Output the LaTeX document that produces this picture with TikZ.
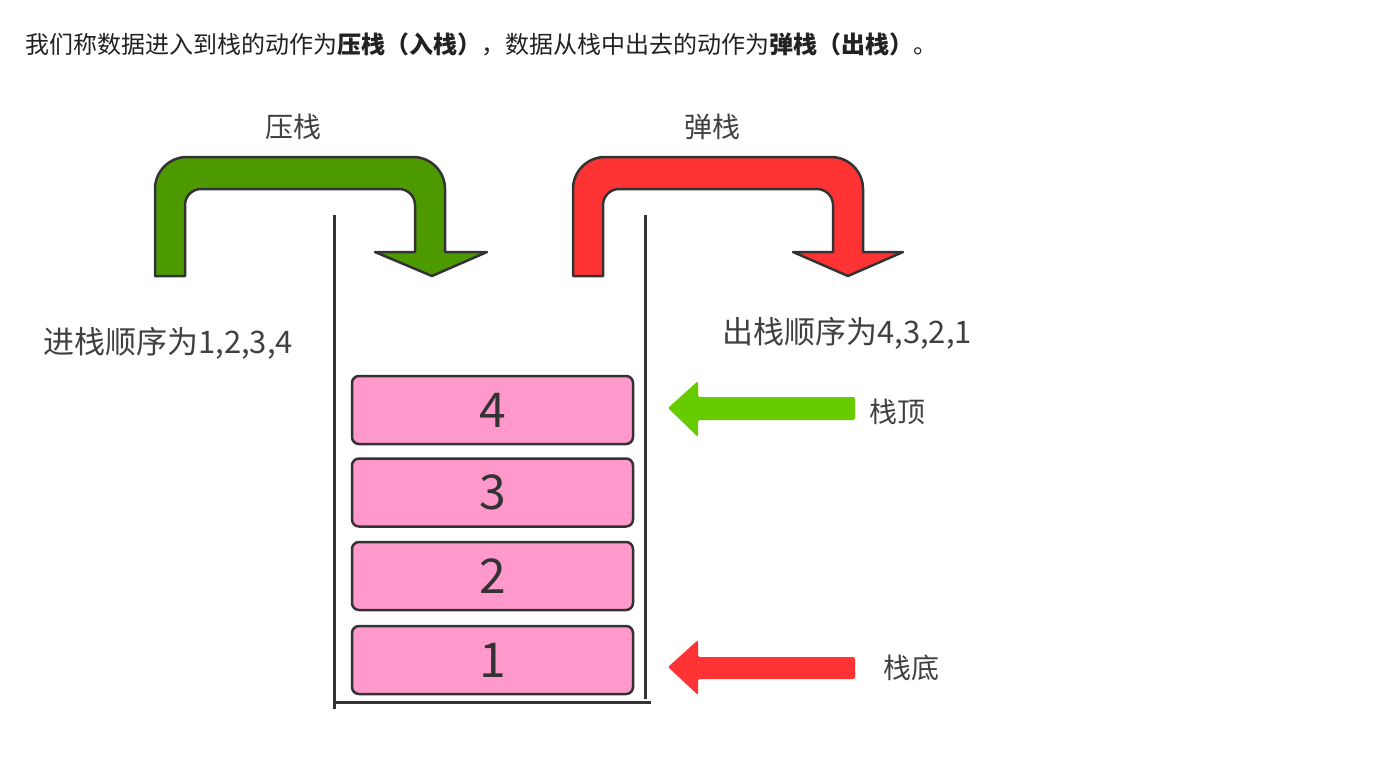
\documentclass[tikz,border=0pt]{standalone}
\usepackage{fontspec}
\setmainfont{Noto Sans CJK SC}
\definecolor{textgray}{HTML}{404040}
\definecolor{introcol}{HTML}{222222}
\definecolor{outline}{HTML}{333333}
\definecolor{pushgreen}{HTML}{4C9A00}
\definecolor{popred}{HTML}{FF3333}
\definecolor{topgreen}{HTML}{66CC00}
\definecolor{boxpink}{HTML}{FF99CC}
\tikzset{
  lbl/.style={text=textgray, inner sep=0pt, font=\fontsize{28pt}{32pt}\selectfont},
  seqlbl/.style={text=textgray, inner sep=0pt, font=\fontsize{31pt}{35pt}\selectfont},
  block/.style={draw=outline, line width=2.5pt, fill=boxpink, rounded corners=7pt,
    minimum width=281pt, minimum height=68pt, inner sep=0pt, text=outline,
    font=\fontsize{48pt}{52pt}\selectfont},
  wall/.style={draw=outline, line width=3pt},
  bigarrow/.style={draw=outline, line width=2.5pt, line join=round},
  smallarrow/.style={rounded corners=2pt}
}
\begin{document}
\begin{tikzpicture}[x=1pt,y=-1pt]
\useasboundingbox (0,0) rectangle (1375,760);

% intro line
\node[anchor=west, inner sep=0pt, text=introcol, font=\fontsize{24pt}{28pt}\selectfont] (intro) at (25,44)
  {我们称数据进入到栈的动作为\textbf{压栈（入栈）}，数据从栈中出去的动作为\textbf{弹栈（出栈）}。};

% push arrow (green)
\filldraw[bigarrow, fill=pushgreen]
  (155,276) -- (155,189) .. controls (155,171.3) and (169.3,157) .. (187,157)
  -- (413,157) .. controls (430.7,157) and (445,171.3) .. (445,189)
  -- (445,252) -- (487,252) -- (432,276) -- (375,252) -- (415,252)
  -- (415,205) .. controls (415,196.2) and (407.8,189) .. (399,189)
  -- (201,189) .. controls (192.2,189) and (185,196.2) .. (185,205)
  -- (185,276) -- cycle;
\node[lbl] (pushlbl) at (293,127) {压栈};

% pop arrow (red)
\filldraw[bigarrow, fill=popred]
  (573,276) -- (573,189) .. controls (573,171.3) and (587.3,157) .. (605,157)
  -- (831,157) .. controls (848.7,157) and (863,171.3) .. (863,189)
  -- (863,252) -- (903,252) -- (848,276) -- (793,252) -- (833,252)
  -- (833,205) .. controls (833,196.2) and (825.8,189) .. (817,189)
  -- (619,189) .. controls (610.2,189) and (603,196.2) .. (603,205)
  -- (603,276) -- cycle;
\node[lbl] (poplbl) at (712,127) {弹栈};

% order labels
\node[seqlbl, anchor=west] (inorder) at (43,343) {进栈顺序为1,2,3,4};
\node[seqlbl, anchor=west] (outorder) at (722,333) {出栈顺序为4,3,2,1};

% stack walls
\coordinate (wlt) at (334,215);
\coordinate (wlb) at (334,709);
\coordinate (wrt) at (645,215);
\coordinate (wrb) at (645,699);
\coordinate (bl) at (334,702);
\coordinate (br) at (651,702);
\draw[wall] (wlt) -- (wlb);
\draw[wall] (wrt) -- (wrb);
\draw[wall] (bl) -- (br);

% blocks
\node[block] (b4) at (492.5,410) {4};
\node[block] (b3) at (492.5,492.5) {3};
\node[block] (b2) at (492.5,576) {2};
\node[block] (b1) at (492.5,660) {1};

% top / bottom pointers
\fill[smallarrow, topgreen] (668,408) -- (698,381) -- (698,397) -- (855,397) -- (855,420)
  -- (698,420) -- (698,437) -- cycle;
\node[lbl, anchor=west] (toplbl) at (869,412) {栈顶};
\fill[smallarrow, popred] (668,667) -- (698,640) -- (698,657) -- (855,657) -- (855,679)
  -- (698,679) -- (698,695) -- cycle;
\node[lbl, anchor=west] (botlbl) at (883,668) {栈底};
\end{tikzpicture}
\end{document}
